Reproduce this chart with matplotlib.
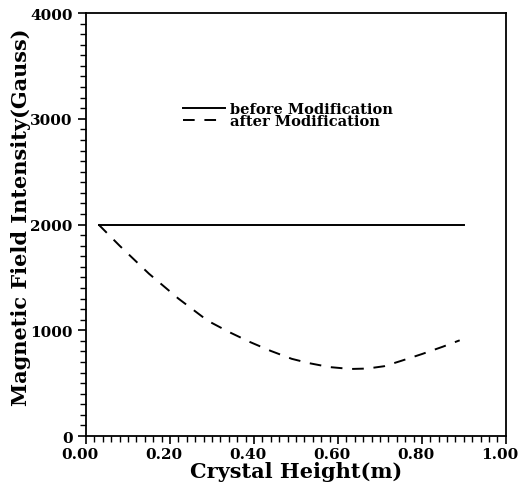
import matplotlib
matplotlib.use("Agg")
import matplotlib.pyplot as plt
import matplotlib.transforms as mtransforms
from matplotlib.ticker import MultipleLocator, FormatStrFormatter

# Data
before_x = [0.03, 0.90]
before_y = [1995, 1995]

after_x = [0.03, 0.08, 0.15, 0.22, 0.29, 0.34, 0.39, 0.44, 0.49, 0.53, 0.58,
           0.63, 0.67, 0.71, 0.75, 0.80, 0.85, 0.89]
after_y = [2000, 1800, 1535, 1300, 1090, 985, 890, 805, 730, 690, 652,
           634, 638, 660, 710, 775, 845, 905]

labels = ["before Modification", "after Modification"]

plt.rcParams['font.family'] = ['DejaVu Serif']
fig = plt.figure(figsize=(5.21, 4.89), dpi=100)
ax = fig.add_axes([0.165, 0.1063, 0.806, 0.865])

ax.plot(before_x, before_y, color='black', lw=1.4, label=labels[0])
ax.plot(after_x, after_y, color='black', lw=1.4, ls=(0, (6, 5)), label=labels[1])

ax.set_xlim(0, 1.0)
ax.set_ylim(0, 4000)
ax.xaxis.set_major_locator(MultipleLocator(0.2))
ax.xaxis.set_minor_locator(MultipleLocator(0.02))
ax.yaxis.set_major_locator(MultipleLocator(1000))
ax.yaxis.set_minor_locator(MultipleLocator(100))
ax.xaxis.set_major_formatter(FormatStrFormatter('%.2f'))
ax.tick_params(which='major', direction='out', length=6, width=1.2, labelsize=11)
ax.tick_params(axis='x', which='major', pad=2)
ax.tick_params(which='minor', direction='out', length=4, width=1.0)
offset = mtransforms.ScaledTranslation(-6 / 100, 0, fig.dpi_scale_trans)
for lab in ax.get_xticklabels():
    lab.set_fontweight('bold')
    lab.set_transform(lab.get_transform() + offset)
for lab in ax.get_yticklabels():
    lab.set_fontweight('bold')
for s in ax.spines.values():
    s.set_linewidth(1.3)

ax.set_xlabel("Crystal Height(m)", fontsize=15, fontweight='bold', labelpad=0)
ax.set_ylabel("Magnetic Field Intensity(Gauss)", fontsize=15, fontweight='bold')
ax.yaxis.set_label_coords(-0.13, 0.52)

leg = ax.legend(loc='upper left', bbox_to_anchor=(0.231, 0.79), frameon=False,
                prop={'weight': 'bold', 'size': 10.5}, handlelength=2.9,
                labelspacing=-0.1, handletextpad=0.3, borderpad=0, borderaxespad=0)

fig.savefig("out.png", dpi=100)
